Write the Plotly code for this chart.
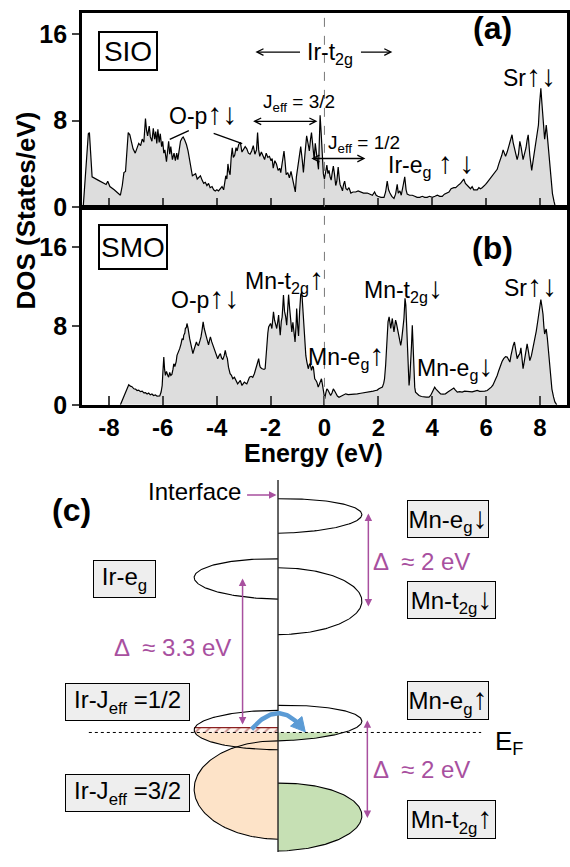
import numpy as np
import plotly.graph_objects as go

# ---------------- DOS data ----------------
E_SIO = [-8.95,-8.90,-8.84,-8.76,-8.72,-8.66,-8.62,-8.40,-8.20,-8.10,
         -8.04,-7.96,-7.80,-7.57,-7.50,-7.44,-7.38,-7.32,-7.28,-7.22,
         -7.16,-7.10,-7.02,-6.96,-6.89,-6.82,-6.76,-6.70,-6.64,-6.60,
         -6.56,-6.50,-6.46,-6.40,-6.35,-6.30,-6.26,-6.22,-6.18,-6.13,
         -6.09,-6.04,-6.00,-5.96,-5.92,-5.86,-5.82,-5.78,-5.74,-5.70,
         -5.64,-5.58,-5.53,-5.48,-5.44,-5.38,-5.34,-5.28,-5.24,-5.18,
         -5.12,-5.06,-5.00,-4.95,-4.90,-4.84,-4.78,-4.72,-4.66,-4.60,
         -4.54,-4.48,-4.42,-4.36,-4.30,-4.24,-4.17,-4.11,-4.05,-3.99,
         -3.93,-3.86,-3.80,-3.74,-3.70,-3.66,-3.62,-3.58,-3.54,-3.50,
         -3.46,-3.42,-3.38,-3.33,-3.28,-3.24,-3.18,-3.12,-3.06,-3.00,
         -2.94,-2.88,-2.82,-2.76,-2.70,-2.64,-2.58,-2.52,-2.48,-2.44,
         -2.40,-2.34,-2.28,-2.22,-2.16,-2.10,-2.04,-1.98,-1.94,-1.90,
         -1.84,-1.78,-1.72,-1.66,-1.62,-1.56,-1.50,-1.46,-1.42,-1.36,
         -1.30,-1.24,-1.18,-1.12,-1.08,-1.04,-1.00,-0.94,-0.88,-0.82,
         -0.78,-0.72,-0.66,-0.60,-0.56,-0.52,-0.48,-0.42,-0.38,-0.34,
         -0.30,-0.26,-0.22,-0.19,-0.16,-0.12,-0.08,-0.04,0.00,0.04,
         0.09,0.13,0.17,0.21,0.25,0.29,0.33,0.37,0.42,0.46,
         0.51,0.55,0.58,0.63,0.67,0.71,0.75,0.80,0.85,0.91,
         0.98,1.06,1.16,1.25,1.35,1.45,1.59,1.70,1.78,1.86,
         1.92,1.98,2.10,2.21,2.27,2.33,2.38,2.43,2.50,2.58,
         2.64,2.70,2.74,2.80,2.85,2.92,2.98,3.03,3.07,3.16,
         3.26,3.35,3.44,3.54,3.63,3.72,3.81,3.90,4.00,4.10,
         4.19,4.28,4.37,4.45,4.55,4.62,4.70,4.76,4.80,4.87,
         4.93,5.00,5.05,5.12,5.17,5.23,5.30,5.36,5.42,5.48,
         5.54,5.61,5.67,5.73,5.79,5.85,5.91,5.98,6.04,6.10,
         6.16,6.22,6.28,6.35,6.41,6.47,6.53,6.58,6.63,6.68,
         6.72,6.78,6.84,6.90,6.96,7.00,7.05,7.10,7.15,7.20,
         7.25,7.30,7.37,7.42,7.48,7.52,7.56,7.62,7.69,7.76,
         7.83,7.90,7.94,7.98,8.03,8.07,8.11,8.17,8.20,8.23,
         8.27,8.30,8.34,8.37,8.42,8.46,8.52,8.57]
DOS_SIO = [0.0,2.0,4.5,6.8,6.9,3.5,2.8,2.5,2.2,2.1,
           2.4,1.9,1.6,1.1,2.0,3.2,3.3,5.8,6.9,6.7,
           6.0,5.4,5.0,5.4,5.9,5.7,6.3,6.0,8.2,7.1,
           6.6,7.5,6.5,6.1,7.3,6.3,7.0,5.9,7.2,6.0,
           6.8,5.6,6.1,5.0,5.3,4.2,5.6,6.1,4.9,5.6,
           4.4,5.0,4.3,5.0,4.4,5.8,6.1,6.4,6.5,6.2,
           5.8,5.2,4.3,3.4,2.9,3.0,3.1,2.6,2.8,2.9,
           2.5,2.2,2.3,2.0,2.2,1.8,1.9,1.6,1.5,1.6,
           1.5,1.7,1.9,1.6,2.2,2.9,2.6,4.0,3.3,3.0,
           4.6,5.5,4.6,4.8,5.5,5.2,5.8,6.0,5.1,5.3,
           5.6,5.4,5.0,4.9,5.2,5.7,4.9,5.3,6.9,5.3,
           4.7,5.1,4.8,4.4,5.0,4.6,4.7,4.3,4.5,3.6,
           4.3,4.0,3.4,3.6,3.2,4.1,5.2,4.2,3.0,3.2,
           2.7,3.3,2.6,1.8,1.4,2.8,3.4,4.5,5.6,4.3,
           3.2,5.0,6.6,5.8,5.2,6.2,6.9,5.4,4.4,5.9,
           5.0,4.0,3.5,6.0,8.5,6.8,4.2,3.1,2.6,3.4,
           3.9,3.1,3.4,2.8,2.5,3.2,3.8,3.1,2.0,2.4,
           3.7,2.7,2.1,1.8,1.5,2.1,2.4,1.7,1.6,1.8,
           1.3,1.4,1.4,1.5,1.4,1.3,1.3,1.2,1.1,1.4,
           1.1,1.0,0.9,0.9,1.4,2.4,1.6,1.3,1.0,0.8,
           1.2,2.1,1.3,1.5,1.1,2.0,2.8,1.6,1.2,1.1,
           1.1,1.0,0.9,0.9,1.0,0.9,0.9,1.0,0.9,1.0,
           1.1,1.0,1.0,1.2,1.3,1.4,1.7,1.8,1.8,1.8,
           1.9,2.1,2.2,2.5,2.6,2.2,2.0,1.8,1.7,1.9,
           1.6,1.6,1.6,1.8,1.7,1.8,1.9,2.1,2.3,2.5,
           2.7,2.8,3.1,3.3,3.5,4.0,4.4,4.8,5.3,4.9,
           4.7,5.1,5.6,6.0,6.7,6.0,5.4,4.9,4.4,4.9,
           6.1,5.5,4.4,4.9,5.5,6.2,6.7,4.8,3.4,4.6,
           5.8,6.9,7.6,9.5,11.0,9.6,8.5,6.3,6.9,7.6,
           6.6,5.8,4.5,3.4,2.1,1.25,0.5,0.0]

E_SMO = [-7.57,-7.50,-7.44,-7.38,-7.32,-7.26,-7.20,-7.14,-7.07,-7.01,
         -6.95,-6.89,-6.83,-6.76,-6.70,-6.64,-6.58,-6.52,-6.46,-6.40,
         -6.34,-6.27,-6.21,-6.15,-6.11,-6.06,-6.02,-5.99,-5.96,-5.93,
         -5.90,-5.86,-5.84,-5.80,-5.78,-5.74,-5.70,-5.66,-5.62,-5.59,
         -5.55,-5.50,-5.47,-5.42,-5.37,-5.32,-5.28,-5.24,-5.22,-5.18,
         -5.16,-5.12,-5.10,-5.06,-5.03,-5.00,-4.96,-4.92,-4.88,-4.84,
         -4.80,-4.75,-4.71,-4.67,-4.62,-4.58,-4.54,-4.50,-4.46,-4.42,
         -4.38,-4.34,-4.30,-4.26,-4.23,-4.18,-4.13,-4.08,-4.04,-4.00,
         -3.96,-3.91,-3.86,-3.82,-3.77,-3.72,-3.68,-3.64,-3.60,-3.56,
         -3.50,-3.45,-3.40,-3.34,-3.28,-3.22,-3.17,-3.12,-3.06,-3.02,
         -2.97,-2.92,-2.88,-2.84,-2.78,-2.72,-2.66,-2.60,-2.55,-2.50,
         -2.46,-2.44,-2.40,-2.38,-2.33,-2.28,-2.24,-2.20,-2.17,-2.14,
         -2.10,-2.07,-2.03,-2.00,-1.97,-1.95,-1.92,-1.89,-1.85,-1.82,
         -1.77,-1.73,-1.70,-1.67,-1.64,-1.60,-1.57,-1.54,-1.52,-1.48,
         -1.44,-1.40,-1.36,-1.33,-1.29,-1.25,-1.21,-1.17,-1.13,-1.09,
         -1.05,-1.03,-0.99,-0.96,-0.92,-0.88,-0.84,-0.81,-0.78,-0.75,
         -0.73,-0.69,-0.65,-0.60,-0.56,-0.53,-0.48,-0.44,-0.41,-0.36,
         -0.32,-0.28,-0.23,-0.19,-0.16,-0.11,-0.07,-0.04,0.01,0.05,
         0.09,0.13,0.17,0.23,0.28,0.33,0.38,0.42,0.48,0.54,
         0.60,0.67,0.73,0.79,0.88,0.98,1.10,1.22,1.35,1.47,
         1.60,1.72,1.81,1.90,1.96,2.02,2.08,2.15,2.20,2.23,
         2.27,2.31,2.34,2.36,2.40,2.43,2.46,2.49,2.52,2.55,
         2.58,2.61,2.64,2.67,2.70,2.74,2.77,2.80,2.83,2.86,
         2.89,2.92,2.95,2.97,2.99,3.02,3.05,3.07,3.10,3.14,
         3.17,3.20,3.23,3.26,3.29,3.32,3.35,3.38,3.45,3.51,
         3.60,3.69,3.78,3.88,3.94,4.00,4.05,4.09,4.14,4.19,
         4.25,4.31,4.40,4.49,4.58,4.68,4.74,4.80,4.86,4.93,
         5.02,5.11,5.20,5.30,5.39,5.48,5.58,5.67,5.76,5.85,
         5.95,6.04,6.12,6.19,6.25,6.31,6.36,6.41,6.47,6.53,
         6.59,6.65,6.72,6.78,6.83,6.88,6.92,6.96,7.00,7.05,
         7.10,7.15,7.20,7.25,7.29,7.34,7.37,7.42,7.47,7.52,
         7.57,7.62,7.68,7.76,7.82,7.86,7.92,7.96,8.00,8.03,
         8.07,8.11,8.14,8.17,8.20,8.23,8.27,8.30,8.34,8.37,
         8.41,8.44,8.50,8.55,8.62]
DOS_SMO = [0.0,0.5,0.95,1.3,1.63,2.04,1.9,1.85,1.63,1.6,
           1.46,1.5,1.35,1.4,1.22,1.25,1.1,1.2,1.02,1.1,
           0.95,1.0,0.88,0.9,0.9,1.3,1.97,3.5,4.86,3.6,
           3.0,3.4,3.16,2.9,2.82,3.3,3.0,3.1,3.6,4.17,
           3.9,4.4,5.03,5.3,5.71,6.2,6.73,6.6,7.07,7.3,
           7.76,7.9,8.27,7.8,7.0,6.73,6.22,5.8,5.2,5.6,
           5.9,6.39,6.1,6.05,6.5,6.9,7.6,8.44,7.76,7.2,
           6.9,6.5,6.1,6.6,6.9,6.4,6.05,5.6,5.4,5.0,
           4.69,5.0,5.2,4.8,4.6,5.0,5.54,5.0,4.7,3.83,
           3.16,3.0,2.65,2.8,2.5,2.14,2.3,2.48,1.97,2.1,
           2.31,2.2,2.14,2.4,2.82,2.9,2.8,3.16,3.6,4.2,
           4.5,4.69,4.0,3.83,3.7,3.67,3.6,3.67,4.8,6.39,
           7.3,7.93,8.1,8.27,8.0,7.76,8.6,9.46,8.6,8.2,
           7.76,8.5,9.12,8.0,7.07,8.5,8.9,10.2,11.16,9.5,
           9.0,8.1,9.6,11.2,9.8,8.5,7.42,8.4,7.5,6.39,
           8.2,9.8,7.9,7.0,9.5,11.2,11.5,10.0,8.78,7.2,
           6.05,5.0,4.35,3.67,4.1,4.18,3.5,3.9,3.84,2.65,
           2.5,2.31,1.8,2.1,2.48,2.65,2.0,1.29,0.61,1.2,
           1.63,1.5,1.29,0.95,1.2,1.63,1.4,1.12,0.9,0.78,
           0.85,0.95,1.0,1.12,1.05,1.05,1.1,1.12,1.18,1.22,
           1.3,1.36,1.4,1.46,1.5,1.63,1.7,1.8,2.2,2.65,
           4.0,6.05,7.5,8.44,8.95,8.2,7.76,8.3,8.78,8.0,
           7.42,8.0,8.61,8.3,7.93,7.4,6.9,6.5,6.05,6.5,
           7.07,8.0,8.78,9.8,10.82,10.14,8.0,6.05,4.0,1.97,
           2.8,4.01,6.0,8.1,5.5,2.65,1.8,1.29,1.05,0.95,
           0.85,0.78,0.78,0.78,0.95,1.29,1.6,1.8,1.6,1.46,
           1.3,1.12,1.1,1.12,1.3,1.46,1.6,1.7,1.5,1.29,
           1.35,1.3,1.4,1.36,1.3,1.32,1.4,1.46,1.38,1.36,
           1.4,1.46,1.6,1.8,2.0,2.31,2.7,2.99,3.5,4.01,
           4.4,4.69,4.9,4.86,4.6,4.35,5.0,5.71,6.0,6.39,
           5.5,4.69,5.0,5.2,5.8,4.8,3.67,4.5,5.5,6.2,
           5.4,4.5,5.0,6.0,6.8,7.5,8.6,9.5,10.3,10.7,
           10.0,9.2,8.0,7.2,7.5,7.7,6.8,5.9,5.0,4.3,
           2.8,1.6,0.8,0.3,0.0]

X_TICKS = [-8, -6, -4, -2, 0, 2, 4, 6, 8]
X_TICK_TEXT = ["-8", "-6", "-4", "-2", "0", "2", "4", "6", "8"]
Y_TICKS = [0, 8, 16]

# ---------------- schematic (panel c) band definitions ----------------
# schematic coordinate = pixel units of the drawing area (y grows downward)
BAND_NAMES  = ["Mn-eg dn", "Mn-t2g dn", "Ir-eg", "Ir-J1/2", "Ir-J3/2", "Mn-eg up", "Mn-t2g up"]
BAND_SIDE   = [1, 1, -1, -1, -1, 1, 1]
BAND_TOP    = [507, 577, 568, 722, 753, 717, 796]
BAND_TIP    = [523, 611, 587, 742, 802, 733, 829]
BAND_BOTTOM = [542, 645, 609, 762, 853, 753, 865]
E_FERMI = 744.5

FONT = "Liberation Sans, Arial, Helvetica, sans-serif"
MAG = "#a8509f"
PEACH = "#fde3c8"
GREEN = "#c6e0b4"
BLUE = "#5b9bd5"
W, H = 570, 867
X0C = 278.5   # interface line in the schematic
LOBE_W = 84


def up(sz=30):
    return '<span style="font-size:%dpx">↑</span>' % sz


def dn(sz=30):
    return '<span style="font-size:%dpx">↓</span>' % sz


def lobe(i, n=120):
    s = BAND_SIDE[i]
    yt, yp, yb = BAND_TOP[i], BAND_TIP[i], BAND_BOTTOM[i]
    ym = (yt + yb) / 2.0
    h = (yb - yt) / 2.0
    sh = yp - ym
    t = np.linspace(0, np.pi, n)
    x = X0C + s * LOBE_W * np.sin(t)
    y = ym - h * np.cos(t) + sh * np.sin(t)
    return x, y


def clip(xs, ys, c, keep_greater):
    pts = list(zip(xs, ys))
    out = []
    inside = (lambda p: p[1] >= c) if keep_greater else (lambda p: p[1] <= c)
    for k in range(len(pts)):
        cur = pts[k]
        prev = pts[k - 1]
        if inside(cur):
            if not inside(prev):
                f = (c - prev[1]) / (cur[1] - prev[1])
                out.append((prev[0] + f * (cur[0] - prev[0]), c))
            out.append(cur)
        elif inside(prev):
            f = (c - prev[1]) / (cur[1] - prev[1])
            out.append((prev[0] + f * (cur[0] - prev[0]), c))
    if not out:
        return [], []
    a, b = zip(*out)
    return list(a), list(b)


def closed(xs, ys):
    return list(xs) + [xs[0]], list(ys) + [ys[0]]


fig = go.Figure()

# DOS panels
fig.add_trace(go.Scatter(x=E_SIO, y=DOS_SIO, mode="lines", fill="tozeroy",
                         fillcolor="#dddddd", line=dict(color="black", width=1.2),
                         xaxis="x", yaxis="y", hoverinfo="skip"))
fig.add_trace(go.Scatter(x=E_SMO, y=DOS_SMO, mode="lines", fill="tozeroy",
                         fillcolor="#dddddd", line=dict(color="black", width=1.2),
                         xaxis="x2", yaxis="y2", hoverinfo="skip"))

# schematic fills (peach = occupied Ir, green = occupied Mn)
for i, mode in [(4, "full"), (3, "below")]:
    lx, ly = lobe(i)
    px = list(lx) + [X0C]
    pyy = list(ly) + [BAND_TOP[i]]
    if mode == "below":
        px, pyy = clip(px, pyy, E_FERMI, True)
    cx, cy = closed(px, pyy)
    fig.add_trace(go.Scatter(x=cx, y=cy, mode="lines", fill="toself", fillcolor=PEACH,
                             line=dict(width=0), xaxis="x3", yaxis="y3", hoverinfo="skip"))
lx, ly = lobe(3)
hx, hy = clip(list(lx) + [X0C], list(ly) + [BAND_TOP[3]], E_FERMI - 5, True)
hx, hy = clip(hx, hy, E_FERMI, False)
cx, cy = closed(hx, hy)
fig.add_trace(go.Scatter(x=cx, y=cy, mode="lines", fill="toself", fillcolor="#fff4ec",
                         fillpattern=dict(shape="/", fgcolor="#8b2020", bgcolor="#fff4ec",
                                          size=7, solidity=0.25),
                         line=dict(width=0), xaxis="x3", yaxis="y3", hoverinfo="skip"))
top_y = E_FERMI - 5
fig.add_trace(go.Scatter(x=[min(hx), X0C], y=[top_y, top_y], mode="lines",
                         line=dict(color="#8b2020", width=1.2), xaxis="x3", yaxis="y3",
                         hoverinfo="skip"))
for i, mode in [(6, "full"), (5, "below")]:
    lx, ly = lobe(i)
    px = list(lx) + [X0C]
    pyy = list(ly) + [BAND_TOP[i]]
    if mode == "below":
        px, pyy = clip(px, pyy, E_FERMI, True)
    cx, cy = closed(px, pyy)
    fig.add_trace(go.Scatter(x=cx, y=cy, mode="lines", fill="toself", fillcolor=GREEN,
                             line=dict(width=0), xaxis="x3", yaxis="y3", hoverinfo="skip"))

# lobe outlines
for i in range(len(BAND_NAMES)):
    lx, ly = lobe(i)
    fig.add_trace(go.Scatter(x=lx, y=ly, mode="lines", line=dict(color="black", width=1.1),
                             xaxis="x3", yaxis="y3", hoverinfo="skip"))

# interface line
fig.add_trace(go.Scatter(x=[X0C, X0C], y=[488, 866], mode="lines",
                         line=dict(color="#222222", width=1.4), xaxis="x3", yaxis="y3",
                         hoverinfo="skip"))

# blue curved arrow (charge transfer)
P0, P1, P2 = np.array([252.0, 741.0]), np.array([278.0, 711.0]), np.array([300.0, 737.0])
tt = np.linspace(0, 1, 40)[:, None]
bz = (1 - tt) ** 2 * P0 + 2 * (1 - tt) * tt * P1 + tt ** 2 * P2
fig.add_trace(go.Scatter(x=bz[:, 0], y=bz[:, 1], mode="lines",
                         line=dict(color=BLUE, width=4.5), xaxis="x3", yaxis="y3",
                         hoverinfo="skip"))
d = (P2 - P1) / np.linalg.norm(P2 - P1)
nrm = np.array([-d[1], d[0]])
tip = P2 + 9 * d
base = P2 - 5 * d
head = np.array([tip, base + 7.5 * nrm, base - 7.5 * nrm, tip])
fig.add_trace(go.Scatter(x=head[:, 0], y=head[:, 1], mode="lines", fill="toself",
                         fillcolor=BLUE, line=dict(color=BLUE, width=1), xaxis="x3", yaxis="y3",
                         hoverinfo="skip"))

# ---------------- layout ----------------
xdom = [82 / W, 568 / W]
ax_common = dict(showgrid=False, zeroline=False, showline=True, linecolor="black",
                 linewidth=2.5, mirror=True)
TICKFONT = dict(size=25, family=FONT, weight="bold", color="black")
fig.update_layout(
    width=W, height=H, margin=dict(l=0, r=0, t=0, b=0),
    paper_bgcolor="white", plot_bgcolor="white", showlegend=False,
    font=dict(family=FONT, color="black"),
    xaxis=dict(domain=xdom, range=[-9, 9], tickvals=X_TICKS, ticks="inside", ticklen=9,
               tickwidth=2, showticklabels=False, anchor="y", **ax_common),
    yaxis=dict(domain=[1 - 210.5 / H, 1 - 13 / H], range=[0, 18], tickvals=Y_TICKS,
               ticks="outside", ticklen=7, tickwidth=2, anchor="x",
               tickfont=TICKFONT, **ax_common),
    xaxis2=dict(domain=xdom, range=[-9, 9], tickvals=X_TICKS, ticktext=X_TICK_TEXT,
                ticks="inside", ticklen=9, tickwidth=2, anchor="y2",
                tickfont=dict(size=24, family=FONT, weight="bold", color="black"),
                **ax_common),
    yaxis2=dict(domain=[1 - 411.5 / H, 1 - 211.5 / H], range=[0, 20], tickvals=Y_TICKS,
                ticks="outside", ticklen=7, tickwidth=2, anchor="x2",
                tickfont=TICKFONT, **ax_common),
    xaxis3=dict(domain=[0, 1], range=[0, W], visible=False, anchor="y3"),
    yaxis3=dict(domain=[0, (H - 480) / H], range=[H, 480], visible=False, anchor="x3"),
)

shapes = []
shapes.append(dict(type="line", xref="x", yref="paper", x0=0, x1=0,
                   y0=1 - 411.5 / H, y1=1 - 13 / H,
                   line=dict(color="#777777", width=1, dash="dash")))
shapes.append(dict(type="line", xref="x", yref="y", x0=-5.74, y0=6.27, x1=-5.03, y1=7.09,
                   line=dict(color="black", width=1.3)))
shapes.append(dict(type="line", xref="x", yref="y", x0=-4.11, y0=6.82, x1=-3.05, y1=5.88,
                   line=dict(color="black", width=1.3)))
shapes.append(dict(type="line", xref="x3", yref="y3", x0=89, x1=482, y0=E_FERMI, y1=E_FERMI,
                   line=dict(color="black", width=1, dash="dot")))
fig.update_layout(shapes=shapes)

anns = []


def txt(text, x, y, xref, yref, size=23, color="black", bold=False, **kw):
    d = dict(text=text, x=x, y=y, xref=xref, yref=yref, showarrow=False,
             xanchor="center", yanchor="middle",
             font=dict(family=FONT, size=size, color=color, weight="bold" if bold else "normal"))
    d.update(kw)
    anns.append(d)


def arrow(x, y, ax, ay, xref, yref, color="black", width=1.3, head=5, both=False, size=1.0):
    d = dict(text="", x=x, y=y, ax=ax, ay=ay, xref=xref, yref=yref, axref=xref, ayref=yref,
             showarrow=True, arrowhead=head, arrowsize=size, arrowwidth=width,
             arrowcolor=color, standoff=0, startstandoff=0)
    if both:
        d.update(arrowside="end+start", startarrowhead=head, startarrowsize=size)
    anns.append(d)


def box(text, x, y, xref, yref, w, h, size=24, bw=1, bg="#eeeeee"):
    anns.append(dict(text=text, x=x, y=y, xref=xref, yref=yref, showarrow=False,
                     xanchor="center", yanchor="middle",
                     font=dict(family=FONT, size=size, color="black"),
                     bgcolor=bg, bordercolor="black", borderwidth=bw, borderpad=0,
                     width=w - 2 * bw, height=h - 2 * bw, align="center", valign="middle"))

# panel (a)
box("SIO", -7.3, 14.5, "x", "y", 60, 40, size=28, bw=2, bg="white")
txt("(a)", 6.22, 16.6, "x", "y", size=32, bold=True)
txt("Ir-t<sub>2g</sub>", 0.22, 14.2, "x", "y")
arrow(-2.56, 14.36, -0.85, 14.36, "x", "y")
arrow(2.52, 14.36, 1.30, 14.36, "x", "y")
txt("Sr" + up() + dn(), 7.62, 12.2, "x", "y")
txt("O-p" + up() + dn(), -4.52, 8.7, "x", "y")
txt("J<sub>eff</sub> = 3/2", -0.93, 9.6, "x", "y", size=19)
arrow(-0.26, 7.95, -2.7, 7.95, "x", "y", both=True)
txt("J<sub>eff</sub> = 1/2", 1.48, 5.8, "x", "y", size=19)
arrow(1.52, 4.5, -0.54, 4.5, "x", "y", both=True)
txt("Ir-e<sub>g</sub> " + up() + " " + dn(), 3.96, 4.0, "x", "y")

# panel (b)
box("SMO", -7.11, 16.0, "x2", "y2", 70, 46, size=28, bw=2, bg="white")
txt("(b)", 6.22, 15.95, "x2", "y2", size=32, bold=True)
txt("O-p" + up() + dn(), -4.44, 10.95, "x2", "y2")
txt("Mn-t<sub>2g</sub>" + up(), -1.48, 12.7, "x2", "y2")
txt("Mn-e<sub>g</sub>" + up(), 0.81, 5.0, "x2", "y2")
txt("Mn-t<sub>2g</sub>" + dn(), 2.93, 11.8, "x2", "y2")
txt("Mn-e<sub>g</sub>" + dn(), 4.85, 3.9, "x2", "y2")
txt("Sr" + up() + dn(), 7.66, 12.1, "x2", "y2")

# axis titles
txt("Energy (eV)", 314 / W, 1 - 460 / H, "paper", "paper", size=25, bold=True)
txt("DOS (States/eV)", 26 / W, 1 - 214 / H, "paper", "paper", size=26, bold=True,
    textangle=-90)

# panel (c)
txt("(c)", 72, 518, "x3", "y3", size=32, bold=True)
txt("Interface", 195, 500, "x3", "y3", size=24)
arrow(277, 503, 246, 503, "x3", "y3", color=MAG, width=1.5, head=2)
box("Mn-e<sub>g</sub>" + dn(), 449, 528, "x3", "y3", 82, 38)
box("Mn-t<sub>2g</sub>" + dn(), 452.5, 610, "x3", "y3", 89, 38)
box("Ir-e<sub>g</sub>", 124.5, 589, "x3", "y3", 63, 38)
box("Ir-J<sub>eff</sub> =1/2", 127.5, 714, "x3", "y3", 125, 38)
box("Ir-J<sub>eff</sub> =3/2", 127.5, 806, "x3", "y3", 125, 38)
box("Mn-e<sub>g</sub>" + up(), 449, 712.5, "x3", "y3", 82, 39)
box("Mn-t<sub>2g</sub>" + up(), 452.5, 832.5, "x3", "y3", 89, 39)
arrow(369, 522, 369, 618, "x3", "y3", color=MAG, width=1.5, head=2, both=True)
txt("Δ  ≈ 2 eV", 422, 571, "x3", "y3", size=24, color=MAG)
arrow(243, 588, 243, 738, "x3", "y3", color=MAG, width=1.5, head=2, both=True)
txt("Δ  ≈ 3.3 eV", 173, 658, "x3", "y3", size=24, color=MAG)
arrow(368, 732, 368, 833, "x3", "y3", color=MAG, width=1.5, head=2, both=True)
txt("Δ  ≈ 2 eV", 422, 782, "x3", "y3", size=24, color=MAG)
txt("E<sub>F</sub>", 510, 755, "x3", "y3", size=26)

fig.update_layout(annotations=anns)
# remove the browser's default 8px body margin so the figure fills the window exactly
fig.write_html("out.html", config={"displayModeBar": False},
               post_script="document.body.style.margin='0px';document.body.style.overflow='hidden';")
